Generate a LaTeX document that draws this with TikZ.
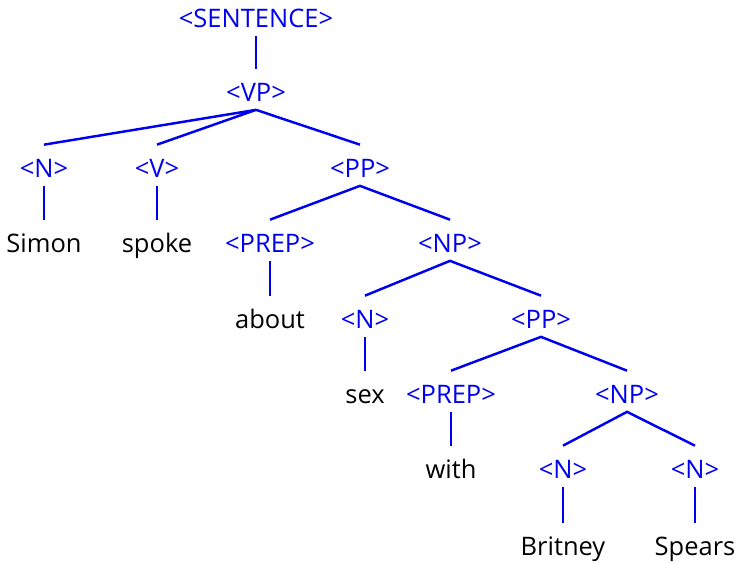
\documentclass[tikz,border=0pt]{standalone}
\usepackage{fontspec}
\setmainfont{Open Sans}
\usepackage{tikz}
\definecolor{treeblue}{HTML}{0000F0}
\tikzset{
  cat/.style={anchor=base, inner sep=0pt, text height=0.64cm, text depth=0.17cm,
              font=\fontsize{14.5}{17}\selectfont, text=treeblue},
  word/.style={cat, text=black},
  branch/.style={draw=treeblue, line width=1.4pt}
}

\begin{document}
\begin{tikzpicture}[x=0.02cm, y=-0.02cm]
  \useasboundingbox (0,0) rectangle (738,562);

  % categories and words
  \node [cat] (s) at (256, 27) {<SENTENCE>};
  \node [cat] (vp) at (256, 101) {<VP>};

  \node [cat] (n1) at (44, 177) {<N>};
  \node [cat] (v) at (157, 177) {<V>};
  \node [cat] (pp1) at (360, 177) {<PP>};

  \node [word] (simon) at (44, 252) {Simon};
  \node [word] (spoke) at (157, 252) {spoke};
  \node [cat] (prep1) at (270, 252) {<PREP>};
  \node [cat] (np1) at (450, 252) {<NP>};

  \node [word] (about) at (270, 328) {about};
  \node [cat] (n2) at (365, 328) {<N>};
  \node [cat] (pp2) at (541, 328) {<PP>};

  \node [word] (sex) at (365, 403) {sex};
  \node [cat] (prep2) at (451, 403) {<PREP>};
  \node [cat] (np2) at (627, 403) {<NP>};

  \node [word] (with) at (451, 478) {with};
  \node [cat] (n3) at (563, 478) {<N>};
  \node [cat] (n4) at (695, 478) {<N>};

  \node [word] (britney) at (563, 555) {Britney};
  \node [word] (spears) at (695, 555) {Spears};

  % branches
  \draw [branch] (s.south) -- (vp.north);
  \draw [branch] (n1.north) -- (vp.south) -- (v.north);
  \draw [branch] (vp.south) -- (pp1.north);
  \draw [branch] (n1.south) -- (simon.north);
  \draw [branch] (v.south) -- (spoke.north);
  \draw [branch] (prep1.north) -- (pp1.south) -- (np1.north);
  \draw [branch] (prep1.south) -- (about.north);
  \draw [branch] (n2.north) -- (np1.south) -- (pp2.north);
  \draw [branch] (n2.south) -- (sex.north);
  \draw [branch] (prep2.north) -- (pp2.south) -- (np2.north);
  \draw [branch] (prep2.south) -- (with.north);
  \draw [branch] (n3.north) -- (np2.south) -- (n4.north);
  \draw [branch] (n3.south) -- (britney.north);
  \draw [branch] (n4.south) -- (spears.north);
\end{tikzpicture}
\end{document}
